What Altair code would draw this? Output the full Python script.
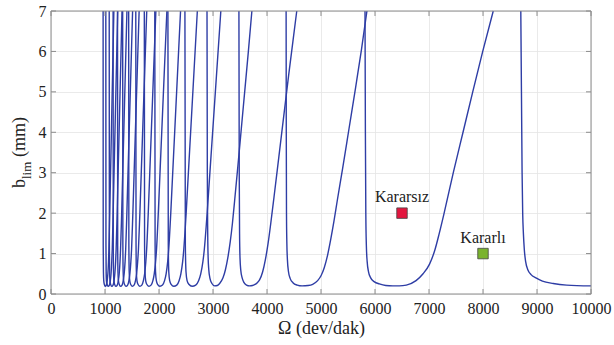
import altair as alt
import pandas as pd

# ---- stability lobes (spindle speed rpm, b_lim mm) ----
lobe00_rpm = [8700, 8712, 8724, 8735, 8748, 8765, 8790, 8830, 8890, 8980, 9100, 9300, 9550, 10000]
lobe00_b = [7.0, 5.0, 3.0, 2.0, 1.5, 1.1, 0.8, 0.6, 0.48, 0.4, 0.32, 0.26, 0.22, 0.2]

lobe01_rpm = [5815, 5822, 5830, 5840, 5855, 5880, 5920, 5990, 6080, 6200, 6330, 6450, 6580,
              6760, 6890, 7010, 7100, 7190, 7280, 7450, 7630, 7810, 7995, 8190]
lobe01_b = [7.0, 4.0, 2.0, 1.2, 0.8, 0.55, 0.4, 0.3, 0.25, 0.21, 0.2, 0.2, 0.22,
            0.33, 0.5, 0.74, 1.05, 1.5, 2.0, 3.0, 4.0, 5.0, 6.0, 7.0]

lobe02_rpm = [4354, 4357, 4361, 4367, 4378, 4398, 4430, 4480, 4560, 4650, 4760, 4846, 4938,
              5000, 5060, 5120, 5180, 5240, 5300, 5400, 5520, 5640, 5750, 5850]
lobe02_b = [7.0, 4.0, 2.0, 1.3, 0.85, 0.55, 0.38, 0.28, 0.22, 0.2, 0.21, 0.24, 0.33,
            0.45, 0.65, 0.95, 1.35, 1.8, 2.3, 3.1, 4.1, 5.1, 6.05, 7.0]

lobe03_rpm = [3480, 3486, 3492, 3500, 3515, 3540, 3575, 3620, 3680, 3730, 3769, 3820, 3862,
              3920, 3970, 4020, 4070, 4130, 4220, 4310, 4400, 4480, 4551]
lobe03_b = [7.0, 3.0, 1.5, 0.9, 0.58, 0.4, 0.28, 0.22, 0.2, 0.21, 0.23, 0.28, 0.35,
            0.55, 0.85, 1.25, 1.75, 2.4, 3.4, 4.4, 5.4, 6.25, 7.0]

lobe04_rpm = [2889, 2895, 2902, 2910, 2922, 2945, 2980, 3031, 3080, 3123, 3185, 3230, 3275,
              3320, 3360, 3400, 3460, 3525, 3590, 3655, 3720]
lobe04_b = [7.0, 3.0, 1.5, 0.9, 0.6, 0.38, 0.26, 0.2, 0.21, 0.26, 0.4, 0.6, 0.9,
            1.3, 1.75, 2.3, 3.15, 4.1, 5.05, 6.0, 7.0]

# narrow lobes share the same read heights
narrow_b = [7.0, 1.2, 0.55, 0.33, 0.24, 0.19, 0.22, 0.33, 0.5, 0.8, 1.1, 2.0, 7.0]
lobe05_rpm = [2480, 2488, 2500, 2520, 2553, 2613, 2680, 2733, 2773, 2813, 2839, 2892, 3145]
lobe06_rpm = [2165, 2172, 2181, 2198, 2225, 2274, 2329, 2372, 2405, 2438, 2459, 2503, 2710]
lobe07_rpm = [1922, 1928, 1936, 1951, 1974, 2017, 2065, 2103, 2132, 2161, 2180, 2218, 2399]
lobe08_rpm = [1728, 1733, 1741, 1753, 1774, 1812, 1853, 1887, 1912, 1937, 1954, 1987, 2146]
lobe09_rpm = [1570, 1575, 1581, 1592, 1611, 1644, 1682, 1711, 1734, 1756, 1771, 1801, 1942]
lobe10_rpm = [1438, 1442, 1448, 1458, 1475, 1505, 1538, 1565, 1585, 1605, 1619, 1646, 1773]
lobe11_rpm = [1327, 1331, 1336, 1345, 1361, 1388, 1419, 1443, 1461, 1479, 1492, 1516, 1632]
lobe12_rpm = [1232, 1235, 1240, 1249, 1263, 1288, 1316, 1338, 1355, 1372, 1383, 1405, 1511]
lobe13_rpm = [1150, 1153, 1158, 1165, 1178, 1201, 1227, 1247, 1263, 1278, 1288, 1309, 1406]
lobe14_rpm = [1078, 1081, 1085, 1092, 1104, 1125, 1149, 1168, 1182, 1197, 1206, 1225, 1315]
lobe15_rpm = [1015, 1018, 1022, 1028, 1039, 1059, 1081, 1099, 1112, 1125, 1134, 1151, 1235]
lobe16_rpm = [965, 967, 971, 977, 987, 1005, 1025, 1041, 1053, 1065, 1072, 1088, 1164]

# markers
point_labels = ["Kararsız", "Kararlı"]
point_rpm = [6500, 8000]
point_b = [2.0, 1.0]
point_colors = ["#e3163f", "#7ab32e"]

x_ticks = [0, 1000, 2000, 3000, 4000, 5000, 6000, 7000, 8000, 9000, 10000]
y_ticks = [0, 1, 2, 3, 4, 5, 6, 7]

lobes = [
    (lobe00_rpm, lobe00_b), (lobe01_rpm, lobe01_b), (lobe02_rpm, lobe02_b),
    (lobe03_rpm, lobe03_b), (lobe04_rpm, lobe04_b),
    (lobe05_rpm, narrow_b), (lobe06_rpm, narrow_b), (lobe07_rpm, narrow_b),
    (lobe08_rpm, narrow_b), (lobe09_rpm, narrow_b), (lobe10_rpm, narrow_b),
    (lobe11_rpm, narrow_b), (lobe12_rpm, narrow_b), (lobe13_rpm, narrow_b),
    (lobe14_rpm, narrow_b), (lobe15_rpm, narrow_b), (lobe16_rpm, narrow_b),
]
rows = []
for i, (xs, bs) in enumerate(lobes):
    for j, (x, b) in enumerate(zip(xs, bs)):
        rows.append({"rpm": x, "b": b, "lobe": i, "k": j})
df = pd.DataFrame(rows)

pts = pd.DataFrame({"label": point_labels, "rpm": point_rpm, "b": point_b})
xt = pd.DataFrame({"rpm": x_ticks})
yt = pd.DataFrame({"b": y_ticks})

W, H = 540, 283
FONT = "Liberation Serif"
FRAME = "#8c8c8c"
LINE = "#2e3da5"
TXT = "#222222"

xscale = alt.Scale(domain=[0, 10000], nice=False, zero=False)
yscale = alt.Scale(domain=[0, 7], nice=False)
xaxis = alt.Axis(values=x_ticks, format="d", title="Ω (dev/dak)", grid=True, ticks=False,
                 domain=False, labelFlush=False, labelOverlap=False,
                 labelPadding=6, titlePadding=3, labelFont=FONT, labelFontSize=16,
                 labelColor=TXT, titleFont=FONT, titleColor=TXT,
                 titleFontSize=18, titleFontWeight="normal")
yaxis = alt.Axis(values=y_ticks, format="d", title=None, grid=True, ticks=False, domain=False,
                 labelPadding=5, labelFont=FONT, labelFontSize=16, labelColor=TXT)

X = alt.X("rpm:Q", scale=xscale, axis=xaxis)
Y = alt.Y("b:Q", scale=yscale, axis=yaxis)

lines = alt.Chart(df).mark_line(color=LINE, strokeWidth=1.4, interpolate="monotone").encode(
    x=X, y=Y, detail="lobe:N", order="k:Q",
)

tick_b = alt.Chart(xt).mark_rule(color=FRAME, strokeWidth=1).encode(
    x=X, y=alt.value(H), y2=alt.value(H - 5))
tick_t = alt.Chart(xt).mark_rule(color=FRAME, strokeWidth=1).encode(
    x=X, y=alt.value(0), y2=alt.value(5))
tick_l = alt.Chart(yt).mark_rule(color=FRAME, strokeWidth=1).encode(
    y=Y, x=alt.value(0), x2=alt.value(5))
tick_r = alt.Chart(yt).mark_rule(color=FRAME, strokeWidth=1).encode(
    y=Y, x=alt.value(W), x2=alt.value(W - 5))
frame = alt.Chart(pd.DataFrame({"rpm": [0]})).mark_rect(
    fill=None, stroke=FRAME, strokeWidth=1
).encode(x=alt.value(0), x2=alt.value(W), y=alt.value(0), y2=alt.value(H))

squares = alt.Chart(pts).mark_square(size=110, opacity=1, stroke="#444444", strokeWidth=0.8).encode(
    x=X, y=Y,
    fill=alt.Fill("label:N", scale=alt.Scale(domain=point_labels, range=point_colors), legend=None),
)
labels = alt.Chart(pts).mark_text(font=FONT, fontSize=16, color=TXT, baseline="alphabetic", dy=-11).encode(
    x=X, y=Y, text="label:N",
)

# y title "b_lim (mm)" with subscript
yt_b = alt.Chart(pd.DataFrame({"t": ["b"]})).mark_text(
    font=FONT, fontSize=18, angle=270, align="left", baseline="alphabetic", color=TXT
).encode(text="t:N", x=alt.value(-26), y=alt.value(177))
yt_lim = alt.Chart(pd.DataFrame({"t": ["lim"]})).mark_text(
    font=FONT, fontSize=13, angle=270, align="left", baseline="alphabetic", color=TXT
).encode(text="t:N", x=alt.value(-20), y=alt.value(168))
yt_mm = alt.Chart(pd.DataFrame({"t": ["(mm)"]})).mark_text(
    font=FONT, fontSize=18, angle=270, align="left", baseline="alphabetic", color=TXT
).encode(text="t:N", x=alt.value(-26), y=alt.value(146))

chart = alt.layer(
    lines, tick_b, tick_t, tick_l, tick_r, frame, squares, labels, yt_b, yt_lim, yt_mm
).properties(
    width=W, height=H, autosize="none",
    padding={"left": 51, "top": 11, "right": 23, "bottom": 51},
    background="white",
).configure(
    font=FONT
).configure_view(
    stroke=None
).configure_axis(
    gridColor="#e4e4e4", gridWidth=0.8, labelFont=FONT, titleFont=FONT,
)

chart.save("out.html", embed_options={"renderer": "svg", "actions": False})
